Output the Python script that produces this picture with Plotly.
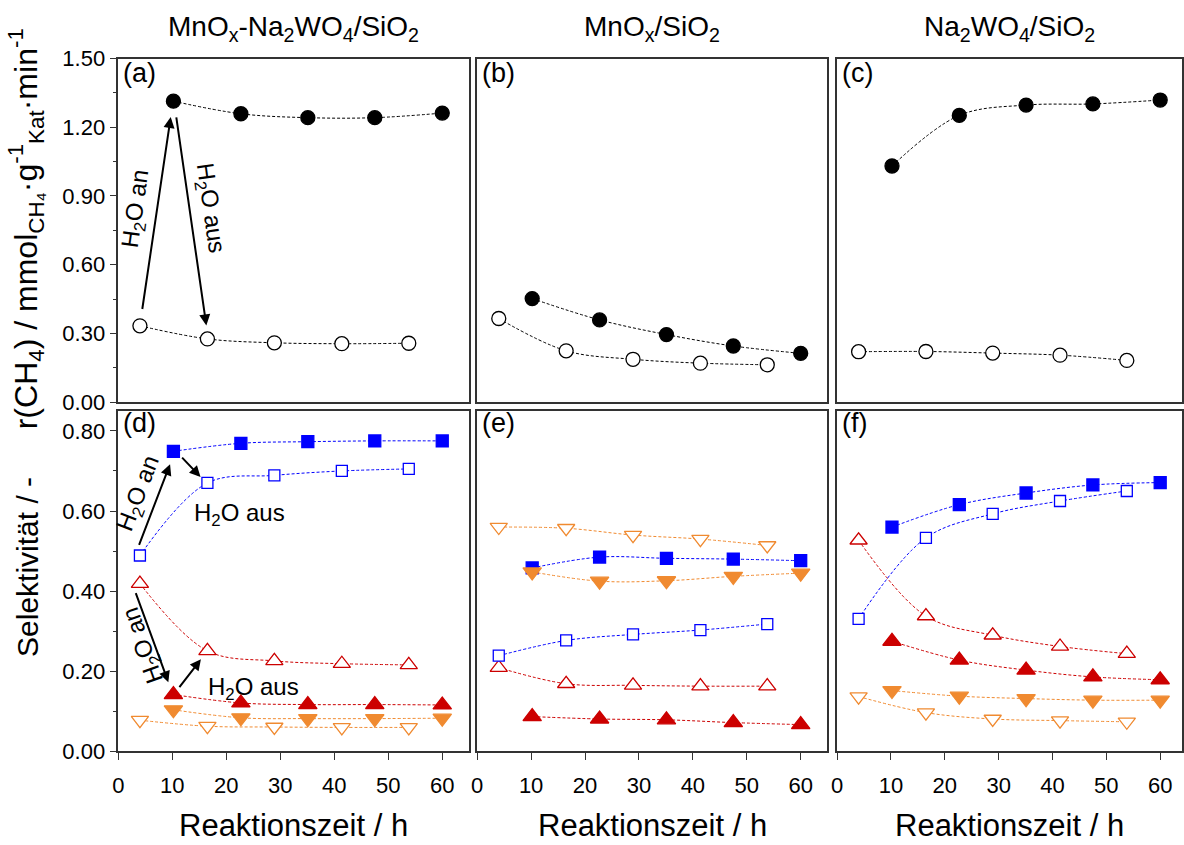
import plotly.graph_objects as go

W, H = 1184, 845

# ---------------- data ----------------
t_open = [4.0, 16.5, 28.9, 41.4, 53.8]
t_fill = [10.2, 22.7, 35.1, 47.5, 60.0]

# rate r(CH4) top row
a_r_fill = [1.314, 1.259, 1.242, 1.242, 1.262]
a_r_open = [0.333, 0.276, 0.259, 0.255, 0.257]
b_r_fill = [0.452, 0.359, 0.295, 0.245, 0.213]
b_r_open = [0.365, 0.224, 0.187, 0.170, 0.163]
c_r_fill = [1.031, 1.252, 1.297, 1.302, 1.319]
c_r_open = [0.220, 0.221, 0.214, 0.205, 0.182]

# selectivities bottom row
d_sq_fill = [0.749, 0.769, 0.773, 0.775, 0.775]
d_sq_open = [0.489, 0.670, 0.689, 0.700, 0.705]
d_up_open = [0.419, 0.251, 0.226, 0.219, 0.216]
d_up_fill = [0.142, 0.121, 0.117, 0.117, 0.116]
d_dn_fill = [0.104, 0.084, 0.082, 0.082, 0.083]
d_dn_open = [0.078, 0.063, 0.061, 0.060, 0.060]

e_dn_open = [0.560, 0.557, 0.540, 0.530, 0.514]
e_sq_fill = [0.458, 0.485, 0.482, 0.480, 0.476]
e_dn_fill = [0.448, 0.425, 0.426, 0.437, 0.445]
e_sq_open = [0.239, 0.277, 0.292, 0.303, 0.318]
e_up_open = [0.209, 0.169, 0.165, 0.163, 0.163]
e_up_fill = [0.087, 0.081, 0.079, 0.072, 0.067]

f_sq_fill = [0.560, 0.616, 0.645, 0.665, 0.671]
f_sq_open = [0.331, 0.533, 0.593, 0.625, 0.650]
f_up_open = [0.527, 0.338, 0.290, 0.262, 0.244]
f_up_fill = [0.275, 0.228, 0.203, 0.186, 0.179]
f_dn_fill = [0.152, 0.138, 0.132, 0.128, 0.128]
f_dn_open = [0.137, 0.097, 0.081, 0.077, 0.074]

col_titles = ["MnO<sub>x</sub>-Na<sub>2</sub>WO<sub>4</sub>/SiO<sub>2</sub>",
              "MnO<sub>x</sub>/SiO<sub>2</sub>",
              "Na<sub>2</sub>WO<sub>4</sub>/SiO<sub>2</sub>"]
panel_labels = ["(a)", "(b)", "(c)", "(d)", "(e)", "(f)"]
x_ticks = [0, 10, 20, 30, 40, 50, 60]

# ---------------- style ----------------
FONT = "Arial, 'Liberation Sans', sans-serif"
BLUE = "#0000FF"
RED = "#CC0000"
ORANGE = "#F08A30"
BLACK = "#000000"
FRAME = "#333333"

cols_px = [(113, 466), (474, 826), (836, 1183)]
rows_px = [(48, 402), (411, 762)]
xranges = [[0, 65], [0, 64.9], [0, 64.05]]


def px2x(p):
    return p / W


def px2y(p):
    return 1 - p / H


fig = go.Figure()


def add(ax_i, x, y, color, symbol, filled, size):
    xa = "x" if ax_i == 1 else f"x{ax_i}"
    ya = "y" if ax_i == 1 else f"y{ax_i}"
    fig.add_trace(go.Scatter(
        x=x, y=y, xaxis=xa, yaxis=ya, mode="lines+markers",
        line=dict(color=color, width=1, dash="3px,2px", shape="spline", smoothing=1.0),
        marker=dict(symbol=symbol, size=size,
                    color=color if filled else "white",
                    line=dict(color=color, width=1.3)),
        showlegend=False, hoverinfo="skip"))


# top row
for i, (op, fi) in enumerate([(a_r_open, a_r_fill), (b_r_open, b_r_fill), (c_r_open, c_r_fill)]):
    add(i + 1, t_open, op, BLACK, "circle", False, 14)
    add(i + 1, t_fill, fi, BLACK, "circle", True, 14)

# bottom row
bottom = [
    (d_sq_open, d_sq_fill, d_up_open, d_up_fill, d_dn_open, d_dn_fill),
    (e_sq_open, e_sq_fill, e_up_open, e_up_fill, e_dn_open, e_dn_fill),
    (f_sq_open, f_sq_fill, f_up_open, f_up_fill, f_dn_open, f_dn_fill),
]
for i, (so, sf, uo, uf, do, df) in enumerate(bottom):
    ax = 4 + i
    add(ax, t_open, do, ORANGE, "triangle-down", False, 15)
    add(ax, t_open, uo, RED, "triangle-up", False, 15)
    add(ax, t_open, so, BLUE, "square", False, 11)
    add(ax, t_fill, sf, BLUE, "square", True, 12)
    add(ax, t_fill, uf, RED, "triangle-up", True, 16)
    add(ax, t_fill, df, ORANGE, "triangle-down", True, 16)

layout = dict(
    width=W, height=H, margin=dict(l=0, r=0, t=0, b=0),
    paper_bgcolor="white", plot_bgcolor="white",
    font=dict(family=FONT, color="black", size=20),
)

for r in range(2):
    for c in range(3):
        i = r * 3 + c + 1
        xk = "xaxis" if i == 1 else f"xaxis{i}"
        yk = "yaxis" if i == 1 else f"yaxis{i}"
        xa = dict(
            domain=[px2x(cols_px[c][0]), px2x(cols_px[c][1])],
            range=xranges[c], anchor="y" if i == 1 else f"y{i}",
            showline=True, mirror=True, linecolor=FRAME, linewidth=1.5,
            showgrid=False, zeroline=False,
            tickvals=x_ticks,
            ticks="outside" if r == 1 else "", ticklen=7, tickwidth=1.3, tickcolor=FRAME,
            showticklabels=(r == 1), tickfont=dict(size=22, family=FONT),
            ticklabelstandoff=6,
        )
        if r == 0:
            yrange, dt, mdt = [0, 1.5], 0.3, 0.15
        else:
            yrange, dt, mdt = [0, 0.85], 0.2, 0.1
        ya = dict(
            domain=[px2y(rows_px[r][1]), px2y(rows_px[r][0])],
            range=yrange, anchor="x" if i == 1 else f"x{i}",
            showline=True, mirror=True, linecolor=FRAME, linewidth=1.5,
            showgrid=False, zeroline=False,
            tick0=0, dtick=dt, tickformat=".2f",
            ticks="outside" if c == 0 else "", ticklen=7, tickwidth=1.3, tickcolor=FRAME,
            showticklabels=(c == 0), tickfont=dict(size=22, family=FONT),
        )
        if c == 0:
            ya["minor"] = dict(dtick=mdt, tick0=0, ticks="outside", ticklen=4,
                               tickwidth=1.2, tickcolor=FRAME)
        layout[xk] = xa
        layout[yk] = ya

fig.update_layout(**layout)

ann = []
# column titles
for c in range(3):
    ann.append(dict(text=col_titles[c], x=px2x((cols_px[c][0] + cols_px[c][1]) / 2),
                    y=px2y(17), xref="paper", yref="paper", showarrow=False,
                    xanchor="center", yanchor="middle", font=dict(size=28, family=FONT)))
# x titles
for c in range(3):
    ann.append(dict(text="Reaktionszeit / h", x=px2x((cols_px[c][0] + cols_px[c][1]) / 2),
                    y=px2y(838), xref="paper", yref="paper", showarrow=False,
                    xanchor="center", yanchor="middle", font=dict(size=31, family=FONT)))
# y titles
ann.append(dict(text="r(CH<sub>4</sub>) / mmol<sub>CH₄</sub>·g<sup>-1</sup><sub>Kat</sub>·min<sup>-1</sup>",
                x=px2x(20), y=px2y(223), xref="paper", yref="paper", showarrow=False,
                textangle=-90, xanchor="center", yanchor="middle", font=dict(size=32, family=FONT)))
ann.append(dict(text="Selektivität / -",
                x=px2x(21), y=px2y(572), xref="paper", yref="paper", showarrow=False,
                textangle=-90, xanchor="center", yanchor="middle", font=dict(size=30, family=FONT)))
# panel labels
for i in range(6):
    r, c = divmod(i, 3)
    ann.append(dict(text=panel_labels[i], x=px2x(cols_px[c][0] + 3),
                    y=px2y(rows_px[r][0] + (15 if r == 0 else 13)),
                    xref="paper", yref="paper", showarrow=False,
                    xanchor="left", yanchor="middle", font=dict(size=27, family=FONT)))


def arrow(ax_i, tail, head):
    xr = "x" if ax_i == 1 else f"x{ax_i}"
    yr = "y" if ax_i == 1 else f"y{ax_i}"
    return dict(x=head[0], y=head[1], ax=tail[0], ay=tail[1], xref=xr, yref=yr,
                axref=xr, ayref=yr, text="", showarrow=True, arrowhead=2,
                arrowsize=1.1, arrowwidth=2, arrowcolor="black")


def label(ax_i, pos, text, angle, size=24):
    xr = "x" if ax_i == 1 else f"x{ax_i}"
    yr = "y" if ax_i == 1 else f"y{ax_i}"
    return dict(x=pos[0], y=pos[1], xref=xr, yref=yr, text=text, showarrow=False,
                textangle=angle, xanchor="center", yanchor="middle",
                font=dict(size=size, family=FONT))


H2O_AN = "H<sub>2</sub>O an"
H2O_AUS = "H<sub>2</sub>O aus"

# panel (a)
ann.append(arrow(1, (4.4, 0.40), (9.7, 1.245)))
ann.append(arrow(1, (10.7, 1.25), (16.3, 0.335)))
ann.append(label(1, (3.4, 0.845), H2O_AN, -82))
ann.append(label(1, (16.8, 0.848), H2O_AUS, 82))
# panel (d)
ann.append(arrow(4, (3.74, 0.512), (9.58, 0.717)))
ann.append(label(4, (3.9, 0.643), H2O_AN, -69))
ann.append(arrow(4, (11.55, 0.737), (15.23, 0.685)))
ann.append(label(4, (22.4, 0.592), H2O_AUS, 0))
ann.append(arrow(4, (3.13, 0.399), (9.26, 0.173)))
ann.append(label(4, (4.8, 0.266), H2O_AN, -109.6))
ann.append(arrow(4, (11.1, 0.157), (15.3, 0.230)))
ann.append(label(4, (25.0, 0.158), H2O_AUS, 0))

fig.update_layout(annotations=ann)

fig.write_html("out.html")
